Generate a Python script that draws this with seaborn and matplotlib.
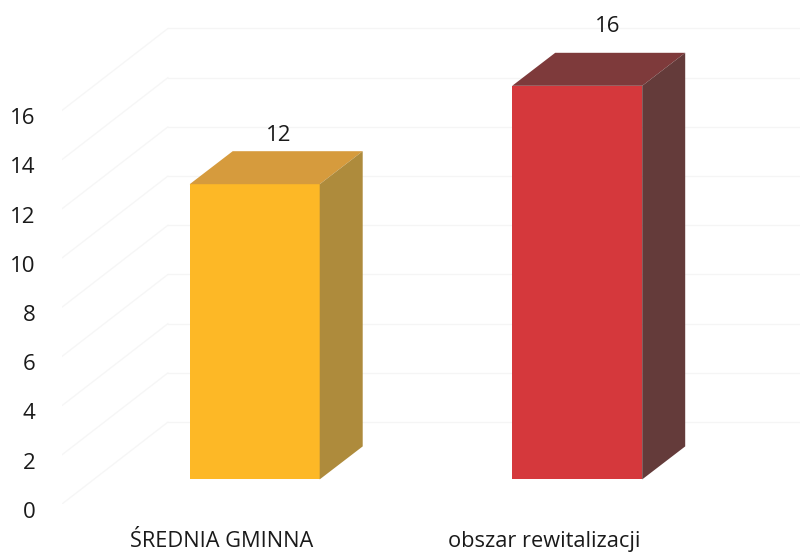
#!/usr/bin/env python3
"""Pseudo-3D bar chart: sredni wskaznik gminny vs obszar rewitalizacji"""

import matplotlib
matplotlib.use('Agg')
import matplotlib.pyplot as plt
from matplotlib.patches import Polygon
from matplotlib.transforms import ScaledTranslation
import seaborn as sns

categories = ['ŚREDNIA GMINNA', 'obszar rewitalizacji']
values = [12, 16]
value_labels = ['12', '16']
y_ticks = [0, 2, 4, 6, 8, 10, 12, 14, 16]

front_colors = ['#FDB826', '#D5383C']
top_colors = ['#D69B3D', '#7E3A3B']
side_colors = ['#AE8B3C', '#643B3A']

# Axes scale: one category step is 322.5 px, one value unit is 24.6 px
PX_X = 322.5
PX_Y = 24.6

# 3D look, in data units
FLOOR_LIFT = 1.0
BAR_WIDTH = 130 / PX_X
DEPTH_X = 43 / PX_X
DEPTH_Y = 33 / PX_Y
WALL_X = 106 / PX_X
WALL_Y = 82 / PX_Y

sns.set_style('white')
plt.rcParams['font.family'] = ['Open Sans', 'DejaVu Sans']

fig = plt.figure(figsize=(8.06, 5.52), dpi=100)
ax = fig.add_axes([62 / 806, 48 / 552, 738 / 806, 504 / 552])

sns.barplot(x=categories, y=values, hue=categories, palette=front_colors,
            saturation=1, legend=False, width=BAR_WIDTH, ax=ax, zorder=3,
            linewidth=0)
bars = list(ax.patches)

ax.set_xlim((62 - 254.7) / PX_X, (800 - 254.7) / PX_X)
ax.set_ylim(0, 504 / PX_Y)

# Floor-to-wall diagonals and wall gridlines
left, right = ax.get_xlim()
wall_left = left + WALL_X
for tick in y_ticks:
    ax.plot([left, wall_left], [tick, tick + WALL_Y], color='#F6F6F6', lw=1, zorder=1)
    ax.plot([wall_left, right], [tick + WALL_Y, tick + WALL_Y], color='#F5F5F5', lw=1, zorder=1)

# Lift bars off the floor, then add the top and side faces
for i, bar in enumerate(bars):
    bar.set_y(FLOOR_LIFT)
    x0 = bar.get_x()
    x1 = x0 + bar.get_width()
    y0 = bar.get_y()
    y1 = y0 + bar.get_height()
    ax.add_patch(Polygon([(x0, y1), (x1, y1), (x1 + DEPTH_X, y1 + DEPTH_Y), (x0 + DEPTH_X, y1 + DEPTH_Y)],
                         closed=True, facecolor=top_colors[i], edgecolor='none', zorder=3))
    ax.add_patch(Polygon([(x1, y0), (x1 + DEPTH_X, y0 + DEPTH_Y), (x1 + DEPTH_X, y1 + DEPTH_Y), (x1, y1)],
                         closed=True, facecolor=side_colors[i], edgecolor='none', zorder=3))

# Value labels float above the back edge of each bar
label_dx = [24, 30]
label_dy = [16, 26]
for i, bar in enumerate(bars):
    cx = bar.get_x() + bar.get_width() / 2
    top = bar.get_y() + bar.get_height() + DEPTH_Y
    ax.text(cx + label_dx[i] / PX_X, top + label_dy[i] / PX_Y, value_labels[i],
            ha='center', va='center', fontsize=16, color='#1a1a1a', zorder=4)

ax.set_yticks(y_ticks)
ax.set_yticklabels([str(t) for t in y_ticks])
ax.set_xticks(range(len(categories)))
ax.set_xticklabels(categories)
ax.tick_params(axis='y', length=0, pad=19, labelsize=16, labelcolor='#1a1a1a')
ax.tick_params(axis='x', length=0, pad=19.5, labelsize=15.7, labelcolor='#1a1a1a')

# Axis labels sit lower and further left than the bars they name
for label in ax.get_yticklabels():
    label.set_transform(label.get_transform() + ScaledTranslation(0, -4.2 / 72, fig.dpi_scale_trans))
for label in ax.get_xticklabels():
    label.set_transform(label.get_transform() + ScaledTranslation(-33 / 100, 0, fig.dpi_scale_trans))

ax.set_xlabel('')
ax.set_ylabel('')
sns.despine(ax=ax, left=True, bottom=True)

fig.savefig('out.png', dpi=100)
